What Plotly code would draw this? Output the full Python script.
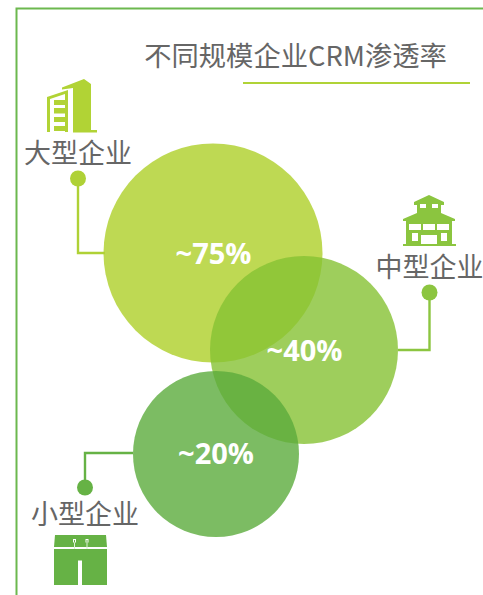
import plotly.graph_objects as go

# Data
categories = ["大型企业", "中型企业", "小型企业"]
values = [75, 40, 20]
value_labels = ["~75%", "~40%", "~20%"]
title_text = "不同规模企业CRM渗透率"
bubble_x = [213, 304, 216]
bubble_y = [253, 350, 454]
bubble_d = [219, 188, 166]
bubble_colors = ["#B3D235", "#86C233", "#5BAB3C"]
bubble_alpha = [0.85, 0.8, 0.8]
dark_colors = ["#AFD136", "#8CC540", "#66B245"]
cat_x = [78, 429.5, 85]
cat_y = [156.5, 270, 517]
dot_y = [178.5, 292.5, 487.5]

W, H = 483, 595
GREY = "#666666"
fig = go.Figure()

# frame + underline
shapes = [
    dict(type="path", path="M 483 8.5 L 16.5 8.5 L 16.5 595", line=dict(color="#6CB84E", width=2), layer="below"),
    dict(type="line", x0=243, x1=470, y0=83, y1=83, line=dict(color="#B0D336", width=2), layer="below"),
]

# connector lines
connectors = [
    ([78, 78, 105], [dot_y[0], 253, 253]),
    ([429.5, 429.5, 398], [dot_y[1], 350, 350]),
    ([85, 85, 133], [dot_y[2], 453, 453]),
]
for (cx, cy), col in zip(connectors, dark_colors):
    fig.add_trace(go.Scatter(x=cx, y=cy, mode="lines", line=dict(color=col, width=2.4), hoverinfo="skip"))
fig.add_trace(go.Scatter(x=cat_x, y=dot_y, mode="markers",
                         marker=dict(size=16, color=dark_colors, line=dict(width=0)), hoverinfo="skip"))

# bubbles
for i in range(3):
    fig.add_trace(go.Scatter(x=[bubble_x[i]], y=[bubble_y[i]], mode="markers", name=categories[i],
                             marker=dict(size=bubble_d[i], color=bubble_colors[i], opacity=bubble_alpha[i],
                                         line=dict(width=0)),
                             customdata=[values[i]], hoverinfo="skip"))

# value text
fig.add_trace(go.Scatter(x=[213.5, 304.5, 216], y=[256.5, 353.5, 456.5], mode="text", text=value_labels,
                         textposition="middle center",
                         textfont=dict(family="Open Sans", size=29, color="white", weight=700), hoverinfo="skip"))
# category text
fig.add_trace(go.Scatter(x=cat_x, y=cat_y, mode="text", text=categories, textposition="middle center",
                         textfont=dict(family="Noto Sans CJK SC", size=27, color=GREY, weight=400), hoverinfo="skip"))
# title
fig.add_trace(go.Scatter(x=[295.5], y=[59], mode="text", text=[title_text], textposition="middle center",
                         textfont=dict(family="Noto Sans CJK SC", size=27.3, color=GREY, weight=400), hoverinfo="skip"))


def poly(path, color):
    return dict(type="path", path=path, fillcolor=color, line=dict(width=0), layer="above")


def rect(x0, y0, x1, y1, color="white"):
    return dict(type="rect", x0=x0, y0=y0, x1=x1, y1=y1, fillcolor=color, line=dict(width=0), layer="above")


# large-company icon
g1 = "#B1D335"
shapes += [
    poly("M 47 97 L 68 90 L 68 132 L 47 132 Z", g1),
    poly("M 50 99 L 65 94 L 65 132 L 50 132 Z", "white"),
    rect(54, 100, 65, 105, g1), rect(54, 108, 65, 113.5, g1),
    rect(54, 117, 65, 122, g1), rect(54, 126, 65, 131, g1),
    poly("M 62 87.5 L 84 79 L 91 84 L 91 130 L 97 130 L 97 132.5 L 73 132.5 L 73 88 L 62 89.5 Z", g1),
]
# medium-company icon
g2 = "#8BC53F"
shapes += [
    poly("M 414 202 L 429 195 L 444 202 L 444 205 L 441 205 L 441 213 L 455 219 L 455 221 L 452 221 "
         "L 452 244 L 456 244 L 456 246 L 403 246 L 403 244 L 406 244 L 406 221 L 403 221 L 403 219 "
         "L 417 213 L 417 205 L 414 205 Z", g2),
    rect(420, 204, 426, 208), rect(432, 204, 438, 208),
    rect(409, 224, 421, 230), rect(423, 224, 435, 230), rect(437, 224, 449, 230),
    rect(412, 233, 418, 241), rect(441, 233, 447, 241), rect(421, 235, 437, 244),
]
# small-company icon
g3 = "#66B245"
shapes += [
    poly("M 55 535 L 106 535 L 107 547 L 54 547 Z", g3),
    poly("M 54 549 L 107 549 L 107 585 L 82 585 L 82 560.5 L 78 560.5 L 78 585 L 54 585 Z", g3),
    rect(73, 539, 76, 542.5, "white"), rect(85.5, 539, 88.5, 542.5, "white"),
    rect(74, 540, 75, 542.5, g3), rect(86.5, 540, 87.5, 542.5, g3),
    rect(74, 542.5, 75, 549, "#DCEFD3"), rect(86.5, 542.5, 87.5, 549, "#DCEFD3"),
]

fig.update_layout(
    width=W, height=H, margin=dict(l=0, r=0, t=0, b=0),
    paper_bgcolor="white", plot_bgcolor="white", showlegend=False,
    xaxis=dict(range=[0, W], visible=False, fixedrange=True),
    yaxis=dict(range=[H, 0], visible=False, fixedrange=True),
    shapes=shapes,
)
fig.write_html("out.html", config=dict(displayModeBar=False),
               default_width="100%", default_height="100%",
               post_script="document.body.style.margin='0';")
